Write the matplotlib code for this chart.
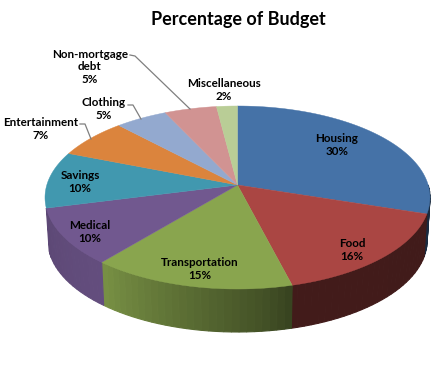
import numpy as np
import matplotlib
matplotlib.use('Agg')
import matplotlib.pyplot as plt

categories = ['Housing', 'Food', 'Transportation', 'Medical', 'Savings',
              'Entertainment', 'Clothing', 'Non-mortgage\ndebt', 'Miscellaneous']
values = [30, 16, 15, 10, 10, 7, 5, 5, 2]
colors = ['#4572A7', '#AA4643', '#89A54E', '#71588F', '#4198AF',
          '#DB843D', '#93A9CF', '#D19392', '#B9CD96']
label_centers = [(337, 145), (352, 250), (200, 269), (90, 232), (80, 182),
                 (41, 129), (104, 109), (90, 67), (224, 90)]
leaders = {5: [(80, 124), (85, 124), (91, 139)],
           6: [(128, 105), (133, 105), (141, 119)],
           7: [(130, 55), (135, 56), (190, 109)]}

# perspective of the pie disc, in image pixels
APEX_X, APEX_Y = 237.5, 185
SCALE_X, SCALE_Y, PERSP = 190.7, 89.8, 0.1366
DEPTH = 43
BOTTOM_SHRINK = 0.985


def project(deg, drop=0.0, shrink=1.0):
    t = np.radians(deg)
    u, v = np.sin(t), np.cos(t)
    d = 1 + PERSP * v
    return APEX_X + shrink * SCALE_X * u / d, APEX_Y - SCALE_Y * v / d + drop


def wall_shade(deg):
    return np.interp(deg, [100, 165, 172, 220, 256], [0.38, 0.39, 0.48, 0.88, 0.82])


def darken(color, f):
    return np.array(matplotlib.colors.to_rgb(color)) * f


fig = plt.figure(figsize=(4.35, 3.68), dpi=100)
ax = fig.add_axes([0, 0, 1, 1])
ax.set_xlim(0, 435)
ax.set_ylim(368, 0)
ax.axis('off')

edges = np.cumsum([0] + values) / sum(values) * 360

# side wall, only the front of the rim shows (savings and up have none)
for i in range(4):
    lo, hi = max(edges[i], 90), edges[i + 1]
    for a in np.arange(lo, hi, 2.0):
        b = min(a + 2.0, hi)
        x0, y0 = project(a)
        x1, y1 = project(b)
        x2, y2 = project(b, DEPTH, BOTTOM_SHRINK)
        x3, y3 = project(a, DEPTH, BOTTOM_SHRINK)
        c = darken(colors[i], wall_shade((a + b) / 2))
        ax.fill([x0, x1, x2, x3], [y0, y1, y2, y3], color=c, lw=0.8,
                zorder=1 + a / 1000)

# top surface
for i in range(len(values)):
    angles = np.linspace(edges[i], edges[i + 1], 60)
    xs, ys = project(angles)
    ax.fill(np.r_[APEX_X, xs], np.r_[APEX_Y, ys], color=colors[i], lw=0.3, zorder=2)

for pts in leaders.values():
    ax.plot(*zip(*pts), color='#7f7f7f', lw=0.9, zorder=3)

for name, val, (x, y) in zip(categories, values, label_centers):
    ax.text(x, y, f'{name}\n{val}%', ha='center', va='center', family='Lato',
            fontweight='bold', fontsize=8.4, linespacing=1.12, color='black', zorder=4)

ax.text(238, 20, 'Percentage of Budget', ha='center', va='center', family='Lato',
        fontweight='bold', fontsize=13.0, color='black')

fig.savefig('out.png', dpi=100)
plt.close(fig)
